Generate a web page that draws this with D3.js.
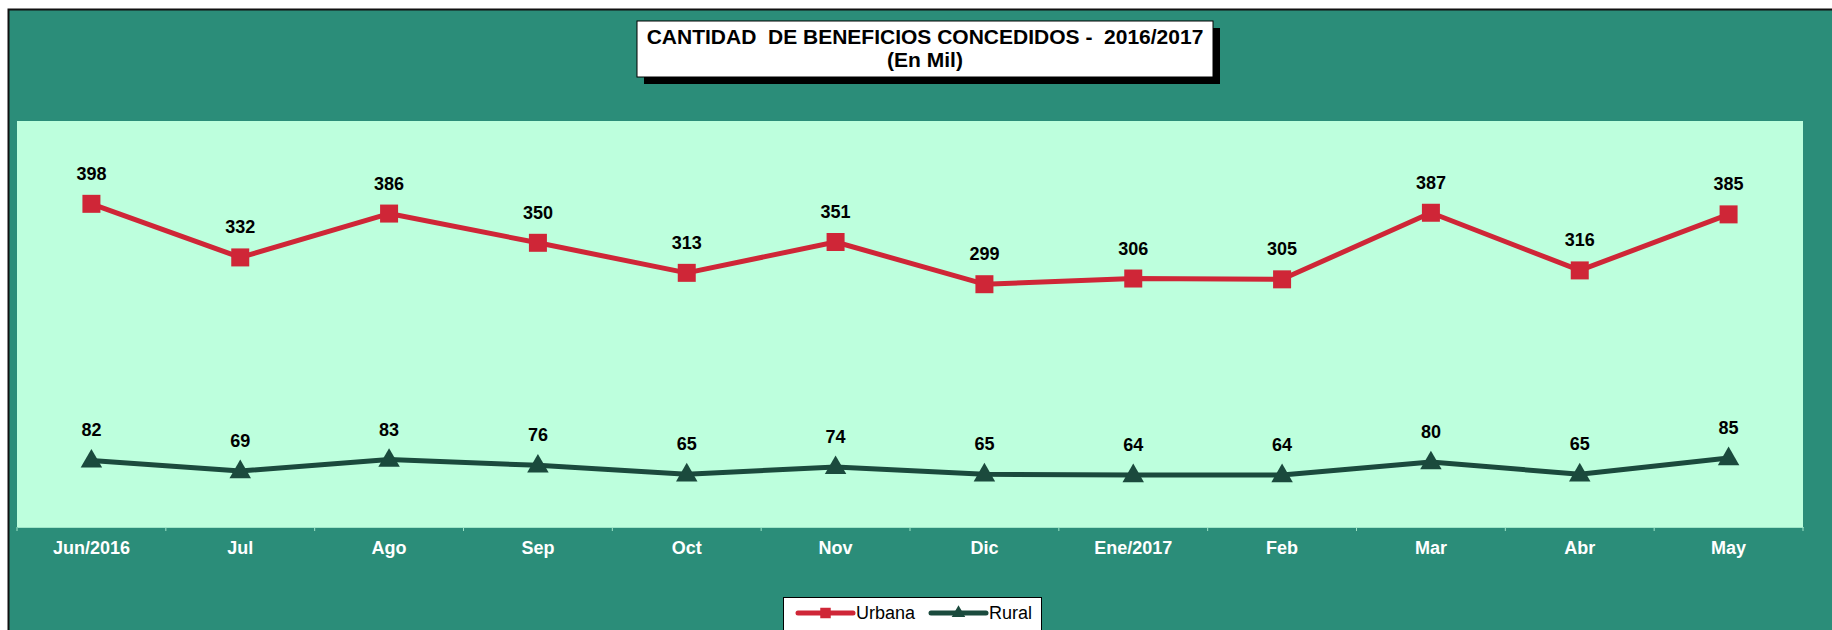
<!DOCTYPE html>
<html>
<head>
<meta charset="utf-8">
<script src="https://cdn.jsdelivr.net/npm/d3@7"></script>
<style>
  html, body { margin: 0; padding: 0; background: #ffffff; }
  svg { display: block; font-family: Arial, "Liberation Sans", sans-serif; }
</style>
</head>
<body>
<div id="chart"></div>
<script>
// data
const months = ["Jun/2016","Jul","Ago","Sep","Oct","Nov","Dic","Ene/2017","Feb","Mar","Abr","May"];
const urbana = [398,332,386,350,313,351,299,306,305,387,316,385];
const rural  = [82,69,83,76,65,74,65,64,64,80,65,85];

const width = 1832, height = 630;
const plot = {left: 17, right: 1803, top: 121, bottom: 527};

const svg = d3.select("#chart").append("svg")
    .attr("width", width)
    .attr("height", height);

// outer frame
svg.append("rect")
    .attr("x", 8.5).attr("y", 9.5)
    .attr("width", width).attr("height", height)
    .attr("fill", "#2b8d79")
    .attr("stroke", "#111").attr("stroke-width", 2);

// plot area
svg.append("rect")
    .attr("x", plot.left).attr("y", plot.top)
    .attr("width", plot.right - plot.left).attr("height", plot.bottom - plot.top)
    .attr("fill", "#bdffdd");

const x = d3.scaleBand()
    .domain(months)
    .range([plot.left, plot.right]);

const y = d3.scaleLinear()
    .domain([0, 500])
    .range([plot.bottom, plot.top]);

// x axis
const xAxis = svg.append("g")
    .attr("transform", `translate(0,${plot.bottom})`)
    .call(d3.axisBottom(x).tickSize(0).tickPadding(0));
xAxis.select(".domain").attr("stroke", "#9fe6c8").attr("stroke-width", 1);
xAxis.selectAll(".tick text").remove();
// tick marks between categories
const bounds = months.map(m => x(m)).concat([plot.right]);
xAxis.selectAll("line.sep")
    .data(bounds)
    .join("line")
    .attr("class", "sep")
    .attr("x1", d => d).attr("x2", d => d)
    .attr("y1", 0).attr("y2", 4)
    .attr("stroke", "#9fe6c8").attr("stroke-width", 1);
xAxis.selectAll("text.lbl")
    .data(months)
    .join("text")
    .attr("class", "lbl")
    .attr("x", d => x(d) + x.bandwidth() / 2)
    .attr("y", 27)
    .attr("text-anchor", "middle")
    .attr("fill", "#ffffff")
    .attr("font-weight", "bold")
    .attr("font-size", 18)
    .text(d => d);

const cx = (d, i) => x(months[i]) + x.bandwidth() / 2;
const line = d3.line().x(cx).y(d => y(d));

const series = [
  {name: "Urbana", values: urbana, color: "#cf2637", shape: d3.symbolSquare},
  {name: "Rural",  values: rural,  color: "#1b4a3d", shape: d3.symbolTriangle}
];

series.forEach(s => {
  svg.append("path")
      .datum(s.values)
      .attr("d", line)
      .attr("fill", "none")
      .attr("stroke", s.color)
      .attr("stroke-width", 5)
      .attr("stroke-linejoin", "round");

  const sym = d3.symbol().type(s.shape).size(s.shape === d3.symbolSquare ? 324 : 200);
  svg.selectAll(null)
      .data(s.values)
      .join("path")
      .attr("d", sym)
      .attr("transform", (d, i) => `translate(${cx(d, i)},${y(d) + (s.shape === d3.symbolTriangle ? 1 : 0)})`)
      .attr("fill", s.color);

  svg.selectAll(null)
      .data(s.values)
      .join("text")
      .attr("x", cx)
      .attr("y", d => y(d) - 24)
      .attr("text-anchor", "middle")
      .attr("font-weight", "bold")
      .attr("font-size", 18)
      .attr("fill", "#000")
      .text(d => d);
});

// title box with shadow
const tb = {x: 637, y: 21, w: 576, h: 56};
svg.append("rect")
    .attr("x", tb.x + 7).attr("y", tb.y + 7)
    .attr("width", tb.w).attr("height", tb.h)
    .attr("fill", "#000");
svg.append("rect")
    .attr("x", tb.x).attr("y", tb.y)
    .attr("width", tb.w).attr("height", tb.h)
    .attr("fill", "#fff").attr("stroke", "#000").attr("stroke-width", 1);
svg.append("text")
    .attr("x", tb.x + tb.w / 2).attr("y", 44)
    .attr("text-anchor", "middle")
    .attr("font-weight", "bold").attr("font-size", 21)
    .attr("xml:space", "preserve")
    .text("CANTIDAD  DE BENEFICIOS CONCEDIDOS -  2016/2017");
svg.append("text")
    .attr("x", tb.x + tb.w / 2).attr("y", 67)
    .attr("text-anchor", "middle")
    .attr("font-weight", "bold").attr("font-size", 21)
    .text("(En Mil)");

// legend
const lg = svg.append("g");
lg.append("rect")
    .attr("x", 783.5).attr("y", 597.5)
    .attr("width", 258).attr("height", 40)
    .attr("fill", "#fff").attr("stroke", "#000").attr("stroke-width", 1);
const legendItems = [
  {s: series[0], x0: 798},
  {s: series[1], x0: 931}
];
legendItems.forEach(({s, x0}) => {
  lg.append("line")
      .attr("x1", x0).attr("x2", x0 + 55)
      .attr("y1", 613).attr("y2", 613)
      .attr("stroke", s.color).attr("stroke-width", 5)
      .attr("stroke-linecap", "round");
  lg.append("path")
      .attr("d", d3.symbol().type(s.shape).size(s.shape === d3.symbolSquare ? 110 : 80))
      .attr("transform", `translate(${x0 + 27.5},613)`)
      .attr("fill", s.color);
  lg.append("text")
      .attr("x", x0 + 58).attr("y", 619)
      .attr("font-size", 18)
      .attr("fill", "#000")
      .text(s.name);
});
</script>
</body>
</html>
